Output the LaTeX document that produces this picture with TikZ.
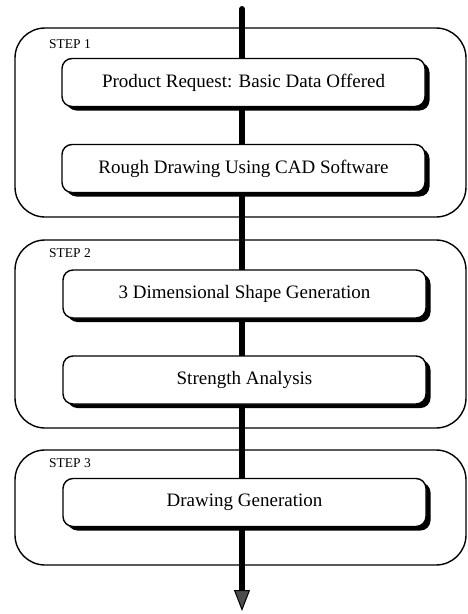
\documentclass[tikz,border=0pt]{standalone}
\usepackage{fontspec}
\setmainfont{Liberation Serif}
\usetikzlibrary{arrows.meta,shadows}
\begin{document}
\begin{tikzpicture}[x=1pt,y=-1pt,
  stage/.style={draw=black, line width=1.4pt, rounded corners=30pt},
  task/.style={draw=black, fill=white, line width=1.4pt, rounded corners=10pt,
    minimum width=363pt, minimum height=48pt, inner sep=0pt,
    font=\fontsize{19}{22}\selectfont,
    drop shadow={shadow xshift=4.5pt, shadow yshift=-4pt, fill=black, opacity=1}},
  steplabel/.style={anchor=west, inner sep=0pt, font=\fontsize{13.5}{16}\selectfont},
  flow/.style={line width=6pt}
]
\useasboundingbox (0,0) rectangle (468,614);
% stage frames
\draw[stage] (15,28) rectangle (466,217);
\draw[stage] (15,240) rectangle (466,428);
\draw[stage] (15,450) rectangle (466,565);
\node[steplabel] (s1) at (49,44) {STEP 1};
\node[steplabel] (s2) at (49,253) {STEP 2};
\node[steplabel] (s3) at (49,463) {STEP 3};
% flow endpoints
\coordinate (top) at (242,9);
\coordinate (bot) at (242,611);
\coordinate (b1c) at (242,82.5);
\coordinate (b2c) at (242,168.5);
\coordinate (b3c) at (242,294);
\coordinate (b4c) at (242,380);
\coordinate (b5c) at (242,502.5);
\draw[flow, line cap=round] (top) -- (b1c);
\draw[flow] (b1c) -- (b2c) -- (b3c) -- (b4c) -- (b5c);
\draw[flow, -{Triangle[width=16pt, length=21pt, line width=1pt, fill=black!70]}] (b5c) -- (bot);
\node[task] (b1) at (243.5,82.5) {Product Request: Basic Data Offered};
\node[task] (b2) at (243.5,168.5) {Rough Drawing Using CAD Software};
\node[task] (b3) at (244.5,294) {3 Dimensional Shape Generation};
\node[task] (b4) at (244.5,380) {Strength Analysis};
\node[task] (b5) at (244.5,502.5) {Drawing Generation};
\end{tikzpicture}
\end{document}
